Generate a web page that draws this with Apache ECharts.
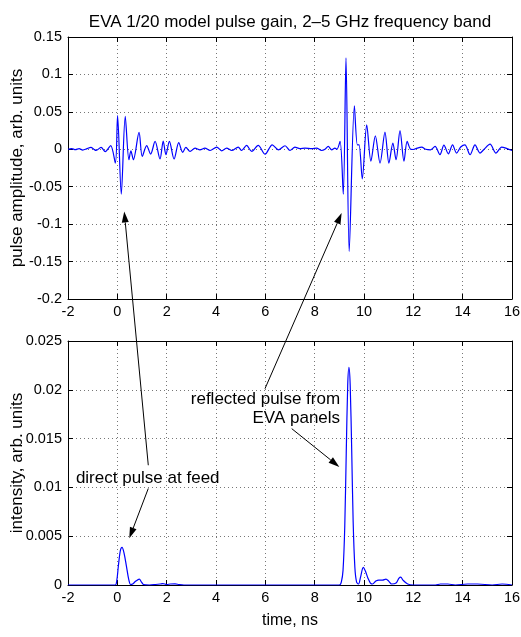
<!DOCTYPE html>
<html>
<head>
<meta charset="utf-8">
<script src="https://cdn.jsdelivr.net/npm/echarts@6/dist/echarts.min.js"></script>
<style>html,body{margin:0;padding:0;background:#fff}#c{width:521px;height:637px}</style>
</head>
<body>
<div id="c"></div>
<script>
// ---- data ----
const titleText = 'EVA 1/20 model pulse gain, 2\u20135 GHz frequency band';
const pulseTime = [-2.00,-1.85,-1.70,-1.55,-1.40,-1.25,-1.07,-0.95,-0.86,-0.66,-0.49,-0.27,-0.08,0.01,0.16,0.32,0.47,0.55,0.65,0.88,1.01,1.19,1.35,1.53,1.73,1.86,1.97,2.11,2.30,2.49,2.65,2.78,2.95,3.15,3.35,3.55,3.76,4.03,4.23,4.43,4.64,4.90,5.04,5.24,5.45,5.71,5.99,6.28,6.53,6.80,7.00,7.20,7.40,7.61,7.88,8.08,8.28,8.42,8.55,8.69,8.82,8.90,9.03,9.16,9.27,9.40,9.61,9.73,9.80,9.93,10.11,10.28,10.46,10.65,10.85,11.01,11.17,11.30,11.46,11.62,11.75,11.89,12.00,12.10,12.34,12.50,12.70,12.88,13.08,13.24,13.42,13.59,13.75,13.92,14.09,14.30,14.50,14.70,14.85,15.11,15.35,15.58,15.75,16.00];
const pulseAmp = [0.000,0.001,-0.0005,0.0008,-0.001,0.0005,0.0025,0.000,-0.0015,0.0025,-0.003,0.005,-0.0184,0.045,-0.060,0.044,-0.014,-0.002,-0.014,0.0225,-0.0096,0.005,-0.0064,0.0105,-0.013,0.011,-0.0073,0.0105,-0.013,0.009,-0.004,0.0025,-0.0029,0.0016,-0.0007,0.0016,-0.0016,0.0029,-0.002,0.0016,-0.0016,0.0029,-0.0016,0.0051,-0.0029,0.0051,-0.0065,0.006,-0.0007,0.0047,-0.0016,0.0029,0.0009,0.0016,0.0009,0.0016,-0.0016,0.000,0.0038,-0.0007,0.0016,0.000,0.0105,-0.060,0.122,-0.1365,0.058,0.006,0.006,-0.0395,0.0327,-0.016,0.018,-0.0185,0.023,-0.0185,0.0083,-0.014,0.025,-0.016,0.0105,0.000,-0.0003,0.0009,0.003,0.000,-0.0007,0.0038,-0.007,0.0055,-0.006,0.006,-0.005,0.003,0.006,-0.0073,0.006,-0.005,-0.0007,0.0069,-0.005,0.003,0.0016,-0.0016];
const intensityTime = [-2.00,-0.09,-0.02,0.04,0.12,0.19,0.27,0.37,0.46,0.54,0.62,0.75,0.89,0.98,1.06,1.30,1.55,1.73,1.85,2.00,2.15,2.34,2.50,2.70,9.00,9.08,9.15,9.22,9.28,9.34,9.39,9.44,9.50,9.56,9.63,9.70,9.78,9.86,9.97,10.06,10.16,10.26,10.35,10.48,10.60,10.75,10.89,11.00,11.12,11.30,11.42,11.49,11.58,11.77,12.00,12.90,13.10,13.40,13.70,14.20,14.60,15.20,15.60,16.00];
const intensityVal = [0,0,0.0005,0.0019,0.0035,0.00385,0.0033,0.0019,0.0006,0.00005,0.0001,0.0004,0.0006,0.0003,0.00005,0,0.00005,0.0001,0.00015,0.00005,0.0001,0.00012,0.00005,0,0,0.0003,0.0015,0.006,0.0135,0.0205,0.0223,0.0205,0.014,0.0065,0.0018,0.0003,0.0001,0.0008,0.0018,0.0014,0.0007,0.0002,0.0001,0.0004,0.0005,0.0005,0.0006,0.0004,0.0001,0.0002,0.0007,0.0008,0.0005,0.0001,0,0,0.0001,0.0001,0,0.0001,0.0001,0,0.0001,0];
const timeRange = [-2, 16, 2];
const ampRange = [-0.2, 0.15, 0.05];
const intRange = [0, 0.025, 0.005];
// annotation anchors in data coordinates: [grid, t, value]
const arrows = [
  {from:[1, 1.255, 0.01227], to:[0, 0.28, -0.083]},
  {from:[1, 1.255, 0.00989], to:[1, 0.485, 0.00478]},
  {from:[1, 5.985, 0.02011], to:[0, 9.094, -0.0852]},
  {from:[1, 7.07, 0.01602], to:[1, 9.00, 0.0121]}
];
const notes = [
  {at:[1, -1.68, 0.0109], text:'direct pulse at feed', align:'left'},
  {at:[1, 9.03, 0.01805], text:'reflected pulse from\nEVA panels', align:'right'}
];

const FONT = 'Liberation Sans, Arial, Helvetica, sans-serif';
const chart = echarts.init(document.getElementById('c'), null, {renderer:'canvas'});

function xAx(grid, pos, showLabel, name) {
  return {
    gridIndex: grid, type:'value', position: pos, min: timeRange[0], max: timeRange[1], interval: timeRange[2],
    axisLine:{show:true, onZero:false, lineStyle:{color:'#000', width:1}},
    axisTick:{show:true, inside:true, length:5, lineStyle:{color:'#000'}},
    axisLabel:{show:showLabel, color:'#000', fontSize:14.5, fontFamily:FONT, margin:5},
    splitLine:{show: showLabel, lineStyle:{color:'#777', type:[1,3], width:1}},
    name: name || '', nameLocation:'middle', nameGap:28, nameMoveOverlap:false,
    nameTextStyle:{color:'#000', fontSize:16, fontFamily:FONT}
  };
}
function yAx(grid, pos, range, showLabel, name) {
  return {
    gridIndex: grid, type:'value', position: pos, min: range[0], max: range[1], interval: range[2],
    axisLine:{show:true, onZero:false, lineStyle:{color:'#000', width:1}},
    axisTick:{show:true, inside:true, length:5, lineStyle:{color:'#000'}},
    axisLabel:{show:showLabel, color:'#000', fontSize:14.5, fontFamily:FONT, margin:6},
    splitLine:{show: showLabel, lineStyle:{color:'#777', type:[1,3], width:1}},
    name: name || '', nameLocation:'middle', nameGap:42, nameRotate:90, nameMoveOverlap:false,
    nameTextStyle:{color:'#000', fontSize:17, fontFamily:FONT}
  };
}

chart.setOption({
  animation:false,
  backgroundColor:'#fff',
  grid:[
    {left:68, top:37, width:444, height:262, containLabel:false, outerBoundsMode:'none'},
    {left:68, top:341, width:444, height:244, containLabel:false, outerBoundsMode:'none'}
  ],
  xAxis:[
    xAx(0,'bottom',true), xAx(0,'top',false),
    xAx(1,'bottom',true,'time, ns'), xAx(1,'top',false)
  ],
  yAxis:[
    yAx(0,'left',ampRange,true,'pulse amplitude, arb. units'), yAx(0,'right',ampRange,false),
    yAx(1,'left',intRange,true,'intensity, arb. units'), yAx(1,'right',intRange,false)
  ],
  series:[
    {type:'line', xAxisIndex:0, yAxisIndex:0, showSymbol:false, smooth:0.3,
     data: pulseTime.map((t,i)=>[t,pulseAmp[i]]), lineStyle:{color:'#0000ff', width:1.2}, z:5},
    {type:'line', xAxisIndex:2, yAxisIndex:2, showSymbol:false, smooth:0.3,
     data: intensityTime.map((t,i)=>[t,intensityVal[i]]), lineStyle:{color:'#0000ff', width:1.2}, z:5}
  ]
});

function px(a){ return chart.convertToPixel({gridIndex:a[0]}, [a[1], a[2]]); }
const g = [];
const gTop = px([0, timeRange[0], ampRange[1]]);
const gRight = px([0, timeRange[1], ampRange[1]]);
g.push({type:'text', x:(gTop[0]+gRight[0])/2, y:gTop[1]-15, z:100,
  style:{text:titleText, fill:'#000', font:'17px ' + FONT, align:'center', verticalAlign:'middle'}});
arrows.forEach(a=>{
  const p0 = px(a.from), p1 = px(a.to);
  const dx = p1[0]-p0[0], dy = p1[1]-p0[1], L = Math.hypot(dx,dy);
  const ux = dx/L, uy = dy/L, hl = 11, hw = 3.5;
  const bx = p1[0]-ux*hl, by = p1[1]-uy*hl;
  g.push({type:'line', z:100, shape:{x1:p0[0], y1:p0[1], x2:bx, y2:by}, style:{stroke:'#000', lineWidth:1}});
  g.push({type:'polygon', z:100, shape:{points:[[p1[0],p1[1]],[bx-uy*hw, by+ux*hw],[bx+uy*hw, by-ux*hw]]}, style:{fill:'#000'}});
});
notes.forEach(n=>{
  const p = px(n.at);
  g.push({type:'text', x:p[0], y:p[1], z:100,
    style:{text:n.text, fill:'#000', font:'17px ' + FONT, align:n.align, verticalAlign:'middle', lineHeight:19}});
});
chart.setOption({graphic:g});
</script>
</body>
</html>
